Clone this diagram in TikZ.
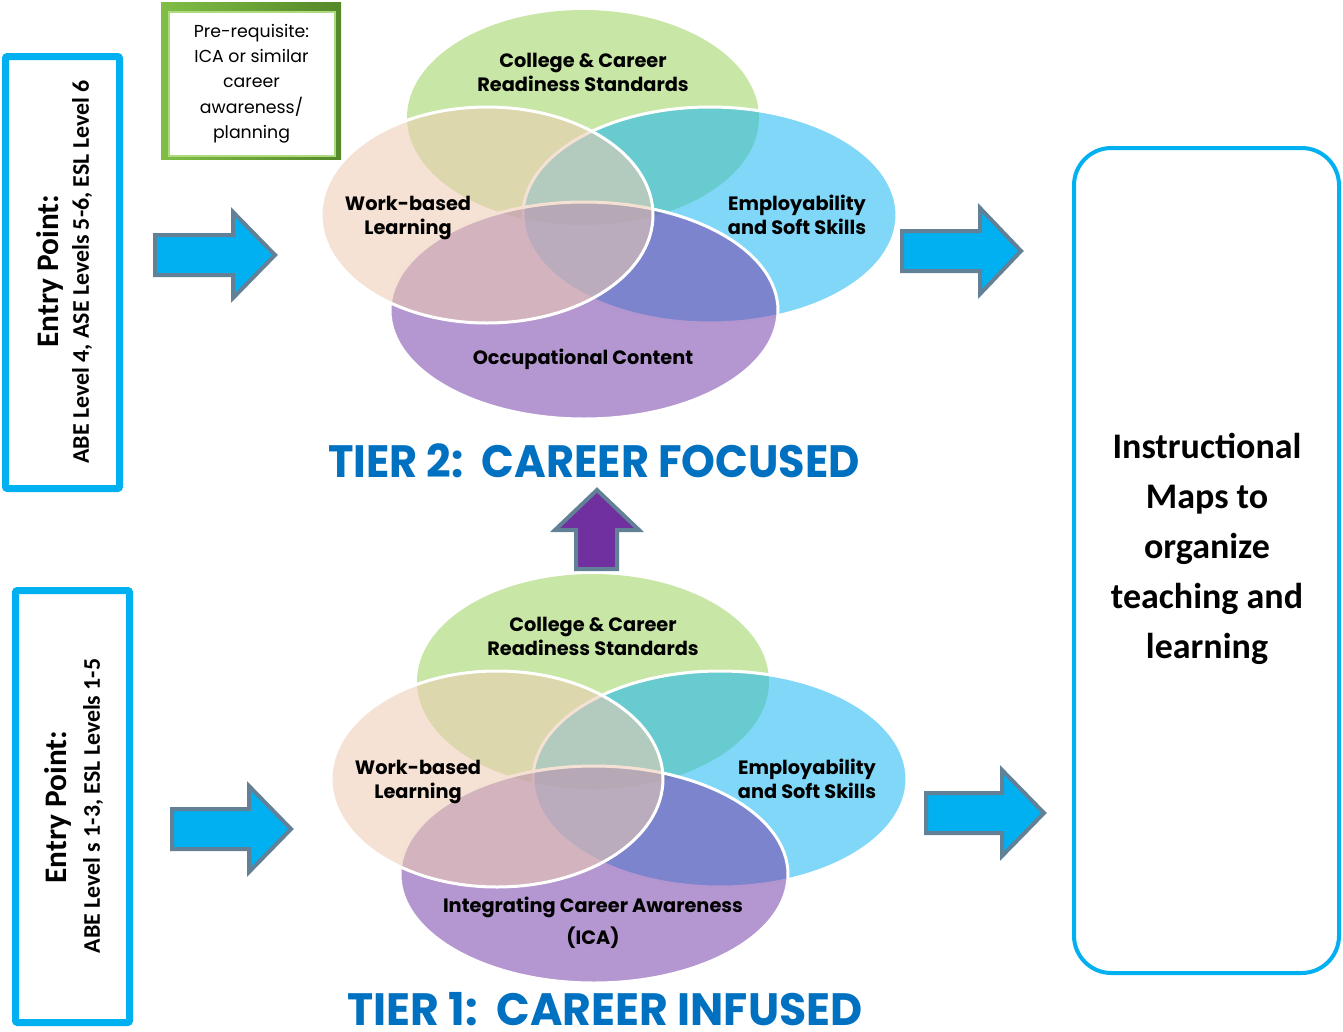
\documentclass[tikz,border=0pt]{standalone}
\usepackage{fontspec}
\usetikzlibrary{shapes.geometric}
\newfontfamily\vennfont{Poppins}
\newfontfamily\calfont{Carlito}
\definecolor{vgreen}{RGB}{157,210,94}
\definecolor{vcyan}{RGB}{28,184,241}
\definecolor{vpurple}{RGB}{121,68,171}
\definecolor{vpink}{RGB}{237,203,178}
\definecolor{boxblue}{RGB}{0,176,240}
\definecolor{arrowedge}{RGB}{98,128,150}
\definecolor{arrowfill}{RGB}{0,176,240}
\definecolor{upfill}{RGB}{112,48,160}
\definecolor{tierblue}{RGB}{0,112,192}
\definecolor{frameL}{RGB}{128,190,70}
\definecolor{frameD}{RGB}{84,136,40}
\definecolor{bevel}{RGB}{176,218,128}
\begin{document}
\begin{tikzpicture}[x=0.75pt,y=-0.75pt,
  circ/.style={ellipse, inner sep=0pt, fill opacity=0.56, draw=white, line width=2.25pt},
  vlabel/.style={font=\vennfont\bfseries\fontsize{14.5}{18}\selectfont, align=center, inner sep=0pt, text=black},
  blockarrow/.style={fill=arrowfill, draw=arrowedge, line width=3pt, line join=miter},
  entrybox/.style={draw=boxblue, line width=5.25pt, rounded corners=1.5pt, minimum width=85.5pt, minimum height=324pt, inner sep=0pt},
  entrytitle/.style={font=\calfont\bfseries\fontsize{23.5}{28}\selectfont, rotate=90, inner sep=0pt},
  entrysub/.style={font=\calfont\bfseries\fontsize{17.9}{21}\selectfont, rotate=90, inner sep=0pt},
  tier/.style={font=\vennfont\bfseries\fontsize{34}{40}\selectfont, text=tierblue, inner sep=0pt, anchor=base}
]
\useasboundingbox (0,0) rectangle (1343,1032);

% ---------- Tier 2 Venn ----------
\node[circ, fill=vgreen, draw=none, minimum width=264pt, minimum height=161.25pt] (g2) at (583,117.5) {};
\node[circ, fill=vcyan, minimum width=280.5pt, minimum height=162pt] (c2) at (710,215) {};
\node[circ, fill=vpurple, minimum width=291pt, minimum height=162.75pt] (p2) at (584,310.5) {};
\node[circ, fill=vpink, minimum width=249pt, minimum height=162pt] (k2) at (487,215) {};
\node[vlabel] (g2t) at (583,72) {College \& Career\\Readiness Standards};
\node[vlabel] (k2t) at (408,218) {Work-based\\Learning};
\node[vlabel] (c2t) at (797,214.5) {Employability\\and Soft Skills};
\node[vlabel] (p2t) at (583,359) {Occupational Content};

% ---------- Tier 1 Venn ----------
\begin{scope}[shift={(10,564)}]
\node[circ, fill=vgreen, draw=none, minimum width=264pt, minimum height=161.25pt] (g1) at (583,117.5) {};
\node[circ, fill=vcyan, minimum width=280.5pt, minimum height=162pt] (c1) at (710,215) {};
\node[circ, fill=vpurple, minimum width=291pt, minimum height=162.75pt] (p1) at (584,310.5) {};
\node[circ, fill=vpink, minimum width=249pt, minimum height=162pt] (k1) at (487,215) {};
\node[vlabel] (g1t) at (583,72) {College \& Career\\Readiness Standards};
\node[vlabel] (k1t) at (408,217.5) {Work-based\\Learning};
\node[vlabel] (c1t) at (797,214.5) {Employability\\and Soft Skills};
\node[vlabel, font=\vennfont\bfseries\fontsize{14.5}{24}\selectfont] (p1t) at (583,359) {Integrating Career Awareness\\(ICA)};
\end{scope}

% ---------- Tier titles ----------
\node[tier] (tier2) at (594,477) {\scalebox{0.95}[1]{TIER 2:\ \ CAREER FOCUSED}};
\node[tier] (tier1) at (605,1025) {\scalebox{0.975}[1]{TIER 1:\ \ CAREER INFUSED}};

% ---------- Pre-requisite box ----------
\node[left color=frameL, right color=frameD, minimum width=135pt, minimum height=117.75pt, inner sep=0pt] (preframe) at (251,80.5) {};
\node[fill=white, draw=bevel, line width=1.5pt, minimum width=124.5pt, minimum height=108pt, inner sep=0pt, align=center,
      font=\vennfont\fontsize{13}{19}\selectfont] (pre) at (251.5,83.5)
      {Pre-requisite:\\ICA or similar\\career\\awareness/\\planning};

% ---------- Entry boxes ----------
\node[entrybox] (entry2) at (62.5,272.5) {};
\node[entrytitle] (entry2t) at (50,271) {Entry Point:};
\node[entrysub] (entry2s) at (82,272) {ABE Level 4, ASE Levels 5-6, ESL Level 6};

\node[entrybox] (entry1) at (72.5,806.5) {};
\node[entrytitle] (entry1t) at (58,807) {Entry Point:};
\node[entrysub] (entry1s) at (93,806) {ABE Level s 1-3, ESL Levels 1-5};

% ---------- Instructional maps box ----------
\node[draw=boxblue, line width=3pt, rounded corners=28pt, minimum width=198.75pt, minimum height=618.75pt, inner sep=0pt] (maps) at (1206.5,560.5) {};
\node[font=\calfont\bfseries\fontsize{27}{37.5}\selectfont, align=center, inner sep=0pt] (mapst) at (1207,549)
  {Instructional\\Maps to\\organize\\teaching and\\learning};

% ---------- Block arrows ----------
\draw[blockarrow] (155,235) -- (233,235) -- (233,212) -- (275,255) -- (233,298) -- (233,275) -- (155,275) -- cycle;
\draw[blockarrow] (902,231) -- (980,231) -- (980,208) -- (1021,251) -- (980,294) -- (980,271) -- (902,271) -- cycle;
\draw[blockarrow] (172,809) -- (249,809) -- (249,786) -- (291,829) -- (249,872) -- (249,849) -- (172,849) -- cycle;
\draw[blockarrow] (926,793) -- (1002,793) -- (1002,770) -- (1044,813) -- (1002,856) -- (1002,833) -- (926,833) -- cycle;
\draw[blockarrow, fill=upfill] (597,490) -- (639,530) -- (617,530) -- (617,569) -- (576,569) -- (576,530) -- (555,530) -- cycle;
\end{tikzpicture}
\end{document}
